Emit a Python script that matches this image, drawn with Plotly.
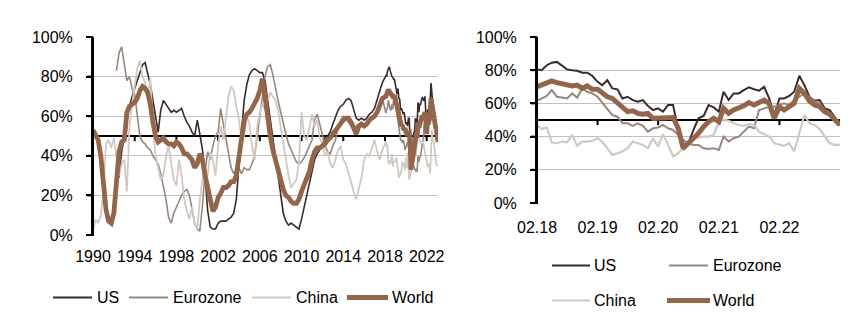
import pandas as pd
import plotly.graph_objects as go

# ---------------- data ----------------
# Left chart: quarterly readings 1990Q1..2017Q4
q_dates = pd.date_range("1990-01-01", "2017-10-01", freq="QS")
# Right chart (and tail of left chart): monthly readings Feb 2018..Feb 2023
m_dates = pd.date_range("2018-02-01", "2023-02-01", freq="MS")

us_q = [None] * 9 + [
    25, 30, 42,
    50, 58, 65, 70,
    74, 77, 82, 86,
    87, 82, 76, 68,
    59, 52, 63, 68,
    66, 64, 62, 63,
    62, 63, 64, 60,
    57, 55, 52, 50,
    58, 51, 43, 30,
    12, 4, 3, 3,
    6, 7, 7, 7,
    8, 9, 11, 18,
    36, 52, 68, 76,
    81, 83, 84, 83,
    82, 82, 78, 68,
    58, 49, 41, 30,
    19, 11, 7, 5,
    6, 5, 4, 3,
    8, 14, 20, 27,
    33, 38, 41, 43,
    46, 49, 50, 52,
    56, 60, 63, 65,
    66, 68, 69, 68,
    64, 59, 58, 59,
    58, 59, 61, 62,
    64, 68, 72, 77,
]

eurozone_q = [None] * 9 + [
    83, 92, 95,
    86, 78, 80, 74,
    71, 60, 50, 47,
    46, 44, 43, 40,
    38, 36, 31, 25,
    18, 9, 6, 11,
    14, 17, 20, 22,
    23, 20, 12, 6,
    3, 2, 15, 32,
    42, 38, 45, 50,
    52, 64, 56, 48,
    40, 34, 31, 33,
    34, 31, 34, 33,
    33, 36, 40, 50,
    62, 72, 80, 85,
    86, 81, 74, 68,
    62, 56, 51, 46,
    43, 40, 37, 36,
    37, 39, 42, 45,
    48, 58, 61, 56,
    50, 45, 42, 41,
    45, 48, 54, 58,
    60, 59, 57, 55,
    53, 55, 56, 57,
    56, 57, 58, 60,
    61, 63, 66, 69,
]

china_q = [
    2, 8, 6, 10,
    22, 46, 48, 44,
    49, 40, 30, 36,
    38, 22, 55, 66,
    76, 84, 88, 80,
    77, 70, 79, 56,
    40, 33, 28, 30,
    40, 45, 36, 28,
    25, 38, 30, 18,
    12, 8, 14, 6,
    3, 18, 28, 35,
    30, 42, 38, 30,
    45, 55, 48, 60,
    70, 75, 73, 65,
    58, 48, 50, 60,
    56, 45, 38, 55,
    62, 66, 63, 68,
    72, 70, 68, 63,
    55, 45, 38, 30,
    24, 26, 28, 36,
    62, 50, 48, 54,
    61, 55, 58, 49,
    46, 40, 42, 36,
    34, 38, 43, 45,
    38, 36, 31, 26,
    22, 18, 23, 29,
    38, 41, 40, 44,
    48, 42, 38, 43,
]

world_q = [
    53, 50, 48, 40,
    26, 13, 7, 6,
    11, 25, 42, 47,
    48, 62, 65, 66,
    67, 69, 73, 75,
    74, 72, 66, 57,
    50, 47, 48, 49,
    47, 46, 46, 45,
    47, 46, 44, 41,
    41, 39, 38, 34,
    36, 41, 38, 30,
    23, 17, 12, 14,
    19, 21, 24, 24,
    25, 27, 27, 30,
    40, 50, 58, 61,
    62, 64, 66, 69,
    73, 79, 70, 58,
    50, 43, 38, 32,
    27, 23, 20, 19,
    17, 16, 16, 18,
    22, 25, 28, 32,
    38, 42, 44, 44,
    45, 46, 48, 49,
    51, 53, 55, 57,
    58, 59, 59, 57,
    54, 51, 55, 56,
    55, 56, 58, 59,
    60, 62, 65, 69,
]

us_m = [80.5, 80, 83, 84.5, 85, 83, 80.5, 80, 79.7, 78.5,
        78.5, 76.5, 73, 71, 74, 69, 68.5, 63, 64, 62,
        61, 62, 58.5, 56, 57, 55, 59, 59, 44, 32,
        36, 44, 51, 52.4, 59, 57.6, 55, 67, 62, 66,
        66, 68, 69.7, 68.5, 67.7, 70, 63, 53, 63, 63,
        64.5, 67, 76.7, 71, 64, 61.6, 62, 57, 56, 51.6, 47]
eurozone_m = [61.6, 63, 64.5, 68, 64, 63.5, 63, 66, 63.5, 69,
              67, 66, 64, 60.5, 56.5, 53, 52, 48, 48, 46.5,
              48, 46.5, 43, 45, 45.5, 47, 45, 44, 41, 38,
              36, 35, 35, 33, 32.5, 33, 32, 40, 37, 39,
              40, 43, 46, 45, 56, 57, 58, 58, 59, 60,
              59, 62, 64, 66, 64, 61, 60, 56, 54, 51, 47]
china_m = [47, 44.5, 45.5, 36.5, 36, 37, 36.5, 41, 34.5, 37,
           37, 37.5, 39, 37, 33, 29, 30, 31, 33, 37,
           36, 35, 33, 39, 34, 41.5, 35, 28, 30, 33,
           36, 39, 39.5, 40, 40, 41, 49, 50.4, 49.5, 48,
           47, 46.5, 47.5, 47, 43, 41.5, 40, 36, 35, 34.5,
           36, 31, 42, 53, 48, 47, 44.5, 40, 36, 35, 35]
world_m = [70, 71, 72, 73.5, 72.5, 72, 71, 70.5, 71, 69,
           70.5, 68.5, 68.5, 66, 64, 63, 60, 57, 55, 55.5,
           54, 53.5, 54, 51, 51, 51, 51, 51.5, 45, 33,
           36, 39, 42, 46, 49, 51, 49, 57, 54, 56,
           57, 58.5, 60.5, 59, 60.5, 62, 60, 51, 58, 56,
           58, 60, 69, 66, 61.5, 59, 58, 55, 53.5, 50.5, 47]

series_names = ["US", "Eurozone", "China", "World"]
colors = ["#3b2b28", "#978780", "#d2c8c2", "#93654a"]
widths_left = [1.6, 1.6, 1.8, 4.8]
widths_right = [2, 2, 2.2, 5]

y_ticks = [0, 20, 40, 60, 80, 100]
y_labels = [f"{v}%" for v in y_ticks]
left_years = [str(y) for y in range(1990, 2023, 4)]
right_ticks = [f"{y}-02-01" for y in range(2018, 2023)]
right_labels = [f"02.{y % 100:02d}" for y in range(2018, 2023)]
threshold = 50

# ---------------- figure ----------------
W, H = 868, 334
def px(x):
    return x / W
def py(y):
    return 1 - y / H

FONT = "Liberation Sans, Arial, sans-serif"
fig = go.Figure()

left_x = list(q_dates) + list(m_dates)
quarterly = [us_q, eurozone_q, china_q, world_q]
monthly = [us_m, eurozone_m, china_m, world_m]

for name, col, wl, q, m in zip(series_names, colors, widths_left, quarterly, monthly):
    fig.add_trace(go.Scatter(x=left_x, y=list(q) + list(m), mode="lines", name=name,
                             line=dict(color=col, width=wl), xaxis="x", yaxis="y",
                             showlegend=False, connectgaps=False))
for name, col, wr, m in zip(series_names, colors, widths_right, monthly):
    fig.add_trace(go.Scatter(x=m_dates, y=m, mode="lines", name=name,
                             line=dict(color=col, width=wr), xaxis="x2", yaxis="y2",
                             showlegend=False))

left_px = (93, 438)
right_px = (537, 840)
left_dom = [px(left_px[0]), px(left_px[1])]
right_dom = [px(right_px[0]), px(right_px[1])]
left_ydom = [py(235), py(37)]
right_ydom = [py(203), py(37)]

yaxis_common = dict(range=[0, 100], tickvals=y_ticks, ticktext=y_labels,
                    showgrid=True, gridcolor="#bfbfbf", gridwidth=1, zeroline=False,
                    showline=True, linecolor="#000000", linewidth=2, mirror=False,
                    ticks="outside", ticklen=5, tickwidth=2, tickcolor="#000000",
                    ticklabelstandoff=10, automargin=False,
                    tickfont=dict(size=16, color="black", family=FONT))

left_range = ["1990-01-01", "2023-02-01"]
right_range = ["2018-02-01", "2023-02-01"]
left_tickvals = [f"{y}-01-01" for y in left_years]

fig.update_layout(
    template="none",
    width=W, height=H, autosize=False,
    margin=dict(l=0, r=0, t=0, b=0, pad=0, autoexpand=False),
    paper_bgcolor="white", plot_bgcolor="white",
    font=dict(family=FONT, size=16, color="black"),
    xaxis=dict(domain=left_dom, anchor="y", type="date", range=left_range,
               tickvals=left_tickvals, ticktext=left_years, automargin=False,
               showgrid=False, zeroline=False, showline=False,
               ticks="outside", ticklen=7, tickcolor="rgba(0,0,0,0)",
               tickfont=dict(size=16, color="black", family=FONT)),
    yaxis=dict(domain=left_ydom, anchor="x", **yaxis_common),
    xaxis2=dict(domain=right_dom, anchor="y2", type="date", range=right_range,
                tickvals=right_ticks, ticktext=right_labels, automargin=False,
                showgrid=False, zeroline=False, showline=False,
                ticks="outside", ticklen=10, tickcolor="rgba(0,0,0,0)",
                tickfont=dict(size=16, color="black", family=FONT)),
    yaxis2=dict(domain=right_ydom, anchor="x2", **yaxis_common),
)

# Value-axis frame (line + tick marks) in paper space, so it is never clipped
for x_left, ydom in ((left_dom[0], left_ydom), (right_dom[0], right_ydom)):
    fig.add_shape(type="line", xref="paper", yref="paper", x0=x_left, x1=x_left,
                  y0=ydom[0] - 1 / H, y1=ydom[1], line=dict(color="black", width=2))
    for v in y_ticks:
        yp = ydom[0] + (ydom[1] - ydom[0]) * v / 100
        fig.add_shape(type="line", xref="paper", yref="paper",
                      x0=x_left - 6 / W, x1=x_left, y0=yp, y1=yp,
                      line=dict(color="black", width=2))

# 50% crossing axis with its tick marks (Excel-style)
for xr, yr, xd, tv, dy in (("x", "y", "x domain", left_tickvals, 2.6),
                           ("x2", "y2", "x2 domain", right_ticks, 3.1)):
    fig.add_shape(type="line", xref=xd, yref=yr, x0=0, x1=1, y0=threshold, y1=threshold,
                  line=dict(color="black", width=2), layer="below")
    for t in tv:
        fig.add_shape(type="line", xref=xr, yref=yr, x0=t, x1=t,
                      y0=threshold, y1=threshold - dy,
                      line=dict(color="black", width=2), layer="below")

# ---------------- legends (keys + text) ----------------
legend_left = [  # (line x0, line x1, text x, y) in pixels
    (53, 92, 96, 297.5),
    (129, 168, 172, 297.5),
    (252, 291, 295, 297.5),
    (347, 388, 391, 297.5),
]
legend_right = [
    (552, 590, 593, 265.5),
    (669, 708, 712, 265.5),
    (552, 590, 593, 300.5),
    (667, 710, 712, 300.5),
]
leg_w = [2, 2, 2, 5]
for entries in (legend_left, legend_right):
    for (x0, x1, tx, y), name, col, lw in zip(entries, series_names, colors, leg_w):
        fig.add_shape(type="line", xref="paper", yref="paper",
                      x0=px(x0), x1=px(x1), y0=py(y), y1=py(y),
                      line=dict(color=col, width=lw))
        fig.add_annotation(text=name, xref="paper", yref="paper", x=px(tx), y=py(y),
                           xanchor="left", yanchor="middle", showarrow=False,
                           font=dict(size=16, color="black", family=FONT), borderpad=0)

fig.write_html(
    "out.html",
    config={"displayModeBar": False},
    post_script="document.body.style.margin='0';document.body.style.overflow='hidden';",
)
